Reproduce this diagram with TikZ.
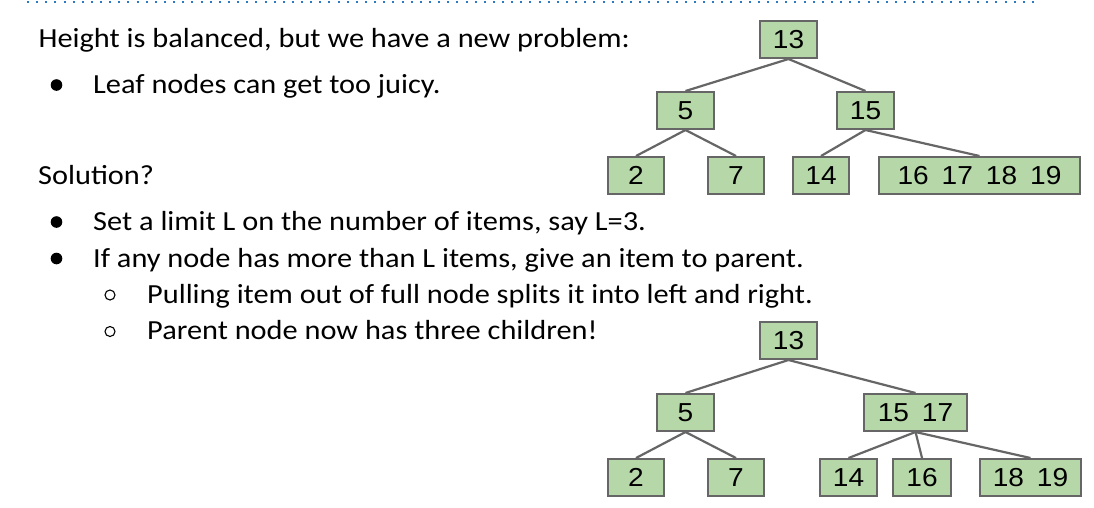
\documentclass[tikz,border=0pt]{standalone}
\usepackage{fontspec}
\setmainfont{Carlito}[FakeStretch=1.1]
\newfontfamily\numfont{Liberation Sans}[FakeStretch=1.08]
\definecolor{boxfill}{HTML}{B6D7A8}
\definecolor{boxline}{HTML}{666666}
\definecolor{dotc}{HTML}{2A7BC4}
\begin{document}
\begin{tikzpicture}[x=1pt,y=-1pt,
  box/.style={draw=boxline, fill=boxfill, line width=2.4pt, inner sep=0pt, minimum height=36.6pt, font=\numfont\fontsize{26}{26}\selectfont},
  edge/.style={draw=boxline, line width=2.2pt},
  txt/.style={anchor=base west, inner sep=0pt, font=\fontsize{27.6}{30}\selectfont},
  bul/.style={fill=black},
  sub/.style={draw=black, line width=1.1pt}]
\useasboundingbox (0,0) rectangle (1094,507);
\fill[white] (0,0) rectangle (1094,507);
\draw[dotc, line width=2pt, dash pattern=on 2pt off 7.136pt] (27,2) -- (1034,2);

% text
\node[txt] (l1) at (38.5,47.5) {Height is balanced, but we have a new problem:};
\node[txt] (l2) at (93,93) {Leaf nodes can get too juicy.};
\node[txt] (l3) at (38,184) {Solution?};
\node[txt] (l4) at (93,230) {Set a limit L on the number of items, say L=3.};
\node[txt] (l5) at (93,267) {If any node has more than L items, give an item to parent.};
\node[txt] (l6) at (147,303) {Pulling item out of full node splits it into left and right.};
\node[txt] (l7) at (147,339) {Parent node now has three children!};
\fill[bul] (56.5,85) circle (5.8);
\fill[bul] (56.5,222) circle (5.8);
\fill[bul] (56.5,258.5) circle (5.8);
\draw[sub] (110,295) circle (5);
\draw[sub] (110,331.5) circle (5);

% tree 1
\node[box, minimum width=56.6pt] (a13) at (788.5,39.5) {13};
\node[box, minimum width=56.6pt] (a5) at (685.5,110.5) {5};
\node[box, minimum width=56.6pt] (a15) at (865.5,110.5) {15};
\node[box, minimum width=55.6pt] (a2) at (636,175.5) {2};
\node[box, minimum width=55.6pt] (a7) at (736,175.5) {7};
\node[box, minimum width=55.6pt] (a14) at (821,175.5) {14};
\node[box, minimum width=200.6pt] (a16) at (979.5,175.5) {16\hspace{13pt}17\hspace{13pt}18\hspace{13pt}19};
\draw[edge] (a13.south) -- (a5.north);
\draw[edge] (a13.south) -- (a15.north);
\draw[edge] (a5.south) -- (a2.north);
\draw[edge] (a5.south) -- (a7.north);
\draw[edge] (a15.south) -- (a14.north);
\draw[edge] (a15.south) -- (a16.north);

% tree 2
\node[box, minimum width=56.6pt] (b13) at (788.5,340.5) {13};
\node[box, minimum width=56.6pt] (b5) at (685.5,412.5) {5};
\node[box, minimum width=102.6pt] (b1517) at (915.5,412.5) {15\hspace{13pt}17};
\node[box, minimum width=55.6pt] (b2) at (636,477.5) {2};
\node[box, minimum width=55.6pt] (b7) at (736,477.5) {7};
\node[box, minimum width=56.6pt] (b14) at (848.5,477.5) {14};
\node[box, minimum width=57.6pt] (b16) at (922,477.5) {16};
\node[box, minimum width=100.6pt] (b1819) at (1030.5,477.5) {18\hspace{13pt}19};
\draw[edge] (b13.south) -- (b5.north);
\draw[edge] (b13.south) -- (b1517.north);
\draw[edge] (b5.south) -- (b2.north);
\draw[edge] (b5.south) -- (b7.north);
\draw[edge] (b1517.south) -- (b14.north);
\draw[edge] (b1517.south) -- (b16.north);
\draw[edge] (b1517.south) -- (b1819.north);
\end{tikzpicture}
\end{document}
